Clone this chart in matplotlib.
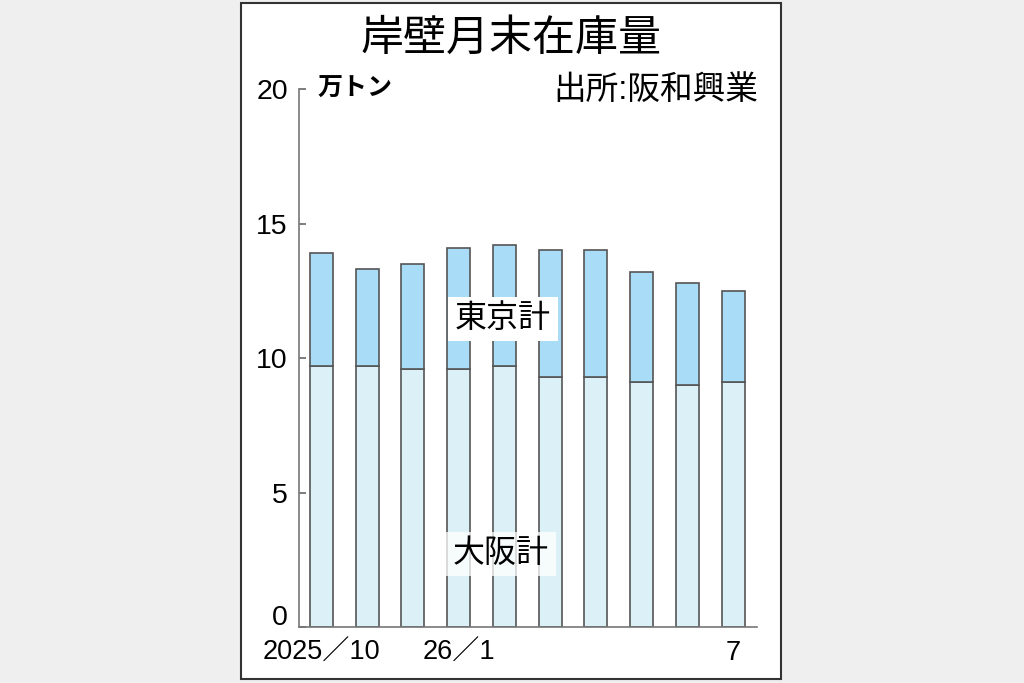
import matplotlib.pyplot as plt
from matplotlib.patches import Rectangle
from matplotlib.transforms import ScaledTranslation

plt.rcParams['font.family'] = ['Liberation Sans', 'Noto Sans CJK JP', 'DejaVu Sans']

# 月ラベル(2025/10〜26/7)
months = ["2025／10", "", "", "26／1", "", "", "", "", "", "7"]
# 万トン
osaka = [9.7, 9.7, 9.6, 9.6, 9.7, 9.3, 9.3, 9.1, 9.0, 9.1]
tokyo = [4.2, 3.6, 3.9, 4.5, 4.5, 4.7, 4.7, 4.1, 3.8, 3.4]
yticks = [0, 5, 10, 15, 20]

W, H = 1024, 683
fig = plt.figure(figsize=(W / 100, H / 100), dpi=100)
fig.patch.set_facecolor('#efefef')

# 白いパネル
fig.patches.append(Rectangle((241 / W, 1 - 679 / H), 540 / W, 676 / H,
                             transform=fig.transFigure, facecolor='white',
                             edgecolor='#333333', linewidth=1.5, zorder=-5))

ax = fig.add_axes([299 / W, 1 - 627.3 / H, 457.5 / W, 538.3 / H])
ax.set_facecolor('none')

x = list(range(len(osaka)))
ax.bar(x, osaka, width=0.505, color='#dcf1f7', edgecolor='#555555', linewidth=1.2, zorder=2)
ax.bar(x, tokyo, width=0.505, bottom=osaka, color='#a9dcf6', edgecolor='#555555',
       linewidth=1.2, zorder=2)

ax.set_xlim(-0.49, 9.51)
ax.set_ylim(0, 20)
ax.set_yticks(yticks)
ax.set_yticklabels([str(v) for v in yticks])
ax.set_xticks(x)
ax.set_xticklabels(months)
ax.tick_params(axis='y', direction='in', length=5, width=1.2, color='#666666',
               labelsize=20.5, pad=8)
ax.tick_params(axis='x', length=0, labelsize=19.5, pad=9)

# 「0」は少し上にずらす
lab0 = ax.get_yticklabels()[0]
lab0.set_transform(lab0.get_transform() + ScaledTranslation(0, 12 / 100, fig.dpi_scale_trans))

for s in ['top', 'right']:
    ax.spines[s].set_visible(False)
for s in ['left', 'bottom']:
    ax.spines[s].set_color('#777777')
    ax.spines[s].set_linewidth(1.2)

ax.text(3.97, 11.46, "東京計", fontsize=23, ha='center', va='center', zorder=3,
        bbox=dict(boxstyle='square,pad=0.22', facecolor='white', edgecolor='none'))
ax.text(3.92, 2.72, "大阪計", fontsize=23, ha='center', va='center', zorder=3,
        bbox=dict(boxstyle='square,pad=0.22', facecolor='white', edgecolor='none', alpha=0.75))

fig.text(511 / W, 1 - 40 / H, "岸壁月末在庫量", fontsize=31, ha='center', va='center')
fig.text(317 / W, 1 - 88.5 / H, "万トン", fontsize=18, fontweight='bold', ha='left', va='center')
fig.text(758 / W, 1 - 90 / H, "出所:阪和興業", fontsize=23.5, ha='right', va='center')

fig.savefig('out.png', dpi=100, facecolor=fig.get_facecolor())
